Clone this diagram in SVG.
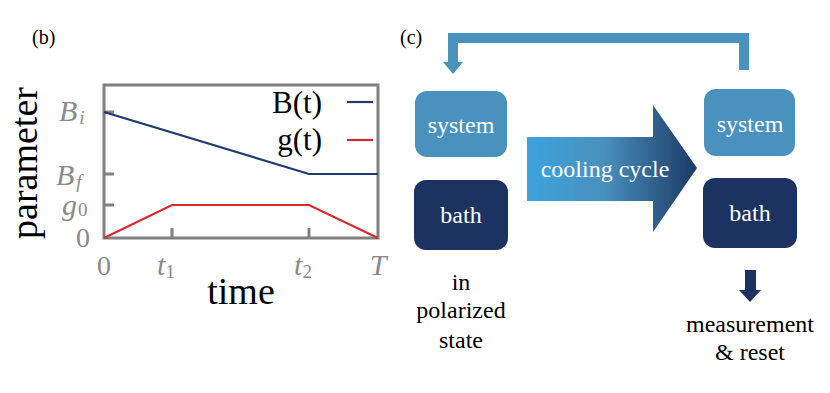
<svg xmlns="http://www.w3.org/2000/svg" width="830" height="393" viewBox="0 0 830 393">
<style>
  .tick { font-style: italic; fill: #8a8a8a; font-size: 30px; }
  .tickn { fill: #8a8a8a; font-size: 28px; }
  .sub { font-size: 19px; }
  .axis { fill: none; stroke: #808080; stroke-width: 3; }
  .box-sys { fill: #4a92bd; }
  .box-bath { fill: #1c3260; }
  .boxtxt { font-size: 24px; fill: #ffffff; text-anchor: middle; }
  .lbl { font-size: 24px; fill: #000000; text-anchor: middle; }
</style>
<defs>
  <linearGradient id="cool" x1="527" y1="0" x2="697" y2="0" gradientUnits="userSpaceOnUse">
    <stop offset="0" stop-color="#3ca3dd"/>
    <stop offset="0.45" stop-color="#4a90bd"/>
    <stop offset="1" stop-color="#1c3966"/>
  </linearGradient>
</defs>
<rect width="830" height="393" fill="#ffffff"/>

<g font-family="'Liberation Serif', 'DejaVu Serif', serif">
<g id="panel-b">
  <text x="32" y="44" font-size="20">(b)</text>
  <text font-size="38" text-anchor="middle" transform="translate(37,163) rotate(-90)">parameter</text>
  <text x="241" y="304" font-size="38" text-anchor="middle">time</text>
  <rect x="104" y="85" width="274" height="153" class="axis"/>
  <g stroke="#808080" stroke-width="3">
    <line x1="104" y1="112" x2="114" y2="112"/>
    <line x1="104" y1="174" x2="114" y2="174"/>
    <line x1="104" y1="205" x2="114" y2="205"/>
    <line x1="172" y1="238" x2="172" y2="228"/>
    <line x1="309" y1="238" x2="309" y2="228"/>
  </g>
  <polyline points="104,112 309,174 378,174" fill="none" stroke="#1f3a6e" stroke-width="2.2"/>
  <polyline points="104,238 172,205 309,205 378,238" fill="none" stroke="#d62a2e" stroke-width="2.2"/>
  <text x="322" y="113" font-size="31" text-anchor="end">B(t)</text>
  <line x1="347" y1="102" x2="373" y2="102" stroke="#1f3a6e" stroke-width="2.2"/>
  <text x="322" y="150" font-size="31" text-anchor="end">g(t)</text>
  <line x1="347" y1="140" x2="373" y2="140" stroke="#d62a2e" stroke-width="2.2"/>
  <text x="59" y="121" class="tick">B<tspan class="sub" dx="2" dy="3">i</tspan></text>
  <text x="56" y="185" class="tick">B<tspan class="sub" dx="2" dy="3">f</tspan></text>
  <text x="62" y="215" class="tick">g<tspan class="sub" font-style="normal" dx="1" dy="1">0</tspan></text>
  <text x="83" y="247" class="tickn" text-anchor="middle">0</text>
  <text x="104" y="275" class="tickn" text-anchor="middle">0</text>
  <text x="166" y="275" class="tick" text-anchor="middle">t<tspan class="sub" font-style="normal" dy="3">1</tspan></text>
  <text x="303" y="275" class="tick" text-anchor="middle">t<tspan class="sub" font-style="normal" dy="3">2</tspan></text>
  <text x="378" y="275" class="tick" text-anchor="middle">T</text>
</g>

<g id="panel-c-label">
  <text x="400" y="44" font-size="20">(c)</text>
</g>

<g id="connectors">
  <path d="M744,70 V38 H453 V63" fill="none" stroke="#4a92bd" stroke-width="10" stroke-linejoin="miter"/>
  <polygon points="443,62 463,62 453,74" fill="#4a92bd"/>
  <polygon points="527,137 653,137 653,105 697,168 653,232 653,201 527,201" fill="url(#cool)"/>
  <rect x="745" y="270" width="11" height="21" fill="#1c3260"/>
  <polygon points="739,290 761,290 750,302" fill="#1c3260"/>
</g>

<g id="node-system-left">
  <rect x="415" y="91" width="92" height="66" rx="12" class="box-sys"/>
  <text x="461" y="133" class="boxtxt">system</text>
</g>
<g id="node-bath-left">
  <rect x="414" y="180" width="94" height="70" rx="12" class="box-bath"/>
  <text x="461" y="223" class="boxtxt">bath</text>
</g>
<g id="node-system-right">
  <rect x="704" y="89" width="91" height="67" rx="12" class="box-sys"/>
  <text x="750" y="132" class="boxtxt">system</text>
</g>
<g id="node-bath-right">
  <rect x="703" y="178" width="94" height="70" rx="12" class="box-bath"/>
  <text x="750" y="221" class="boxtxt">bath</text>
</g>
<g id="label-cooling">
  <text x="605" y="177" class="boxtxt">cooling cycle</text>
</g>
<g id="label-polarized">
  <text x="461" y="290" class="lbl">in</text>
  <text x="461" y="318" class="lbl">polarized</text>
  <text x="461" y="348" class="lbl">state</text>
</g>
<g id="label-measurement">
  <text x="750" y="332" class="lbl">measurement</text>
  <text x="750" y="360" class="lbl">&amp; reset</text>
</g>
</g>
</svg>
